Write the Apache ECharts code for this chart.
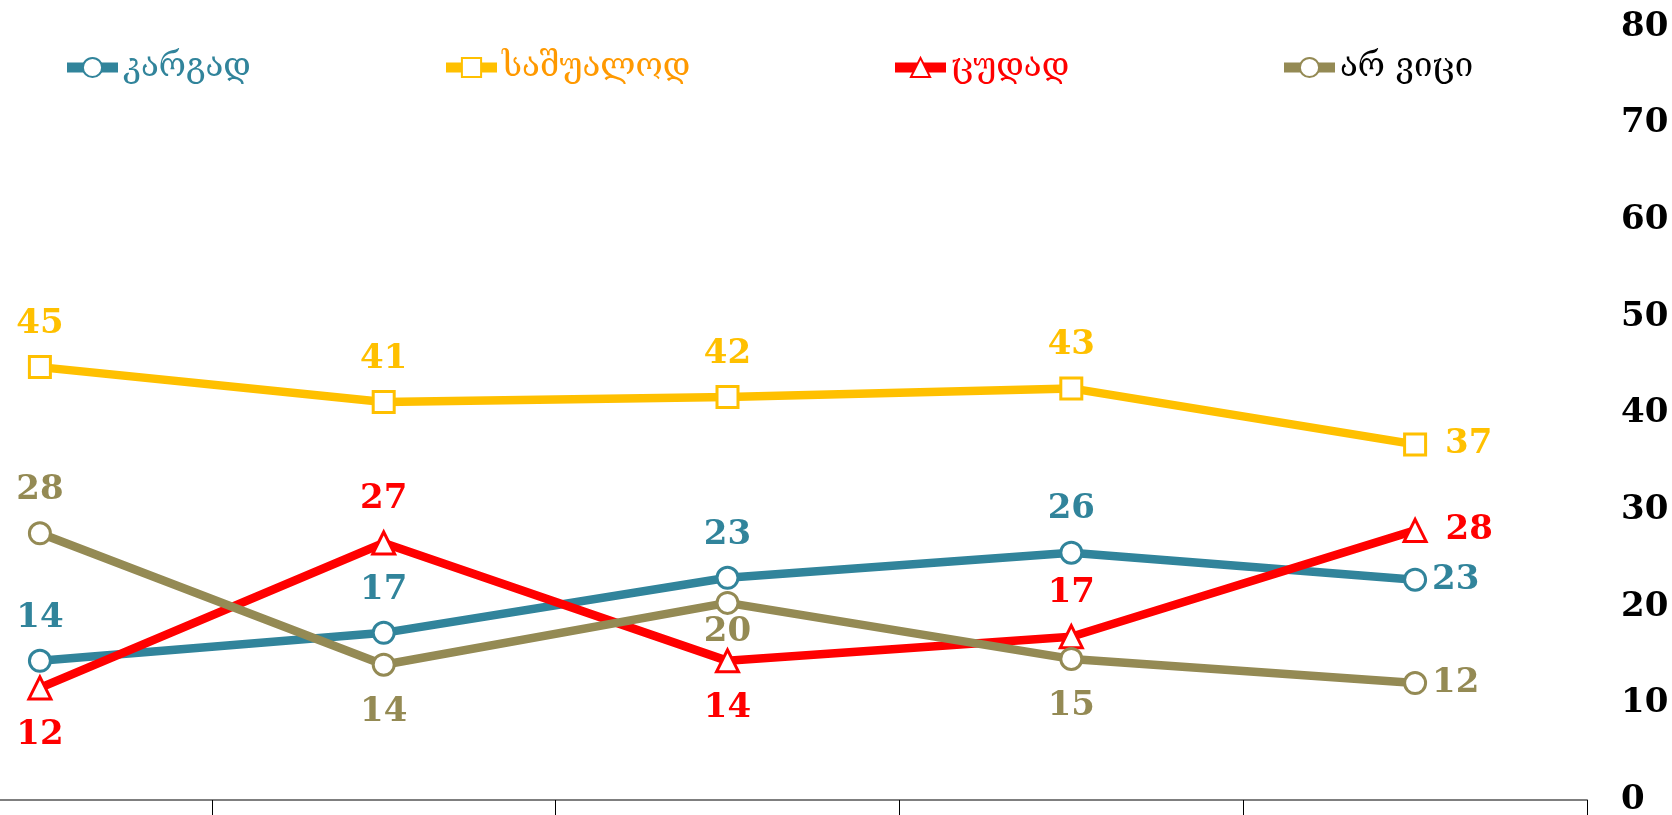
<!DOCTYPE html>
<html>
<head>
<meta charset="utf-8">
<script src="https://cdn.jsdelivr.net/npm/echarts@6/dist/echarts.min.js"></script>
<style>
  html, body { margin: 0; padding: 0; background: #fff; }
  #main { width: 1672px; height: 815px; }
</style>
</head>
<body>
<div id="main"></div>
<script>
// categories (their labels fall below the visible area)
const categories = ['I', 'II', 'III', 'IV', 'V'];
const names = ['კარგად', 'საშუალოდ', 'ცუდად', 'არ ვიცი'];

const kargad    = [14.4, 17.3, 23.0, 25.6, 22.8];
const sashualod = [44.8, 41.2, 41.7, 42.6, 36.8];
const tsudad    = [11.6, 26.6, 14.4, 16.9, 27.9];
const arVitsi   = [27.6, 14.0, 20.4, 14.6, 12.1];

const yMin = 0, yMax = 80, yStep = 10;

const colors = ['#31849B', '#FFC000', '#FF0000', '#948A54'];
const legendText = ['#31849B', '#FF9900', '#FF0000', '#000000'];
const symbols = ['circle', 'rect', 'triangle', 'circle'];

// where each value label sits
const labelPos = [
  ['top', 'top', 'top', 'top', 'right'],
  ['top', 'top', 'top', 'top', 'right'],
  ['bottom', 'top', 'bottom', 'top', 'right'],
  ['top', 'bottom', 'bottom', 'bottom', 'right']
];
const labelDist = [
  [14, 14, 14, 14, 5],
  [14, 14, 14, 14, 18],
  [18, 14, 18, 14, 18],
  [14, 18, 0, 18, 5]
];

const values = [kargad, sashualod, tsudad, arVitsi];
const legendLeft = [62, 441, 890, 1279];

const labelFont = 'DejaVu Serif';

var myChart = echarts.init(document.getElementById('main'));

const series = values.map((vals, i) => ({
  name: names[i],
  type: 'line',
  symbol: symbols[i],
  symbolSize: i === 2 ? 22 : 21,
  lineStyle: { color: colors[i], width: 8.5 },
  itemStyle: { color: '#fff', borderColor: colors[i], borderWidth: 3 },
  z: 2,
  data: vals.map((v, j) => ({
    value: v,
    label: { position: labelPos[i][j], distance: labelDist[i][j] }
  })),
  label: {
    show: true,
    color: colors[i],
    fontFamily: labelFont,
    fontWeight: 'bold',
    fontSize: 34,
    formatter: p => Math.round(p.value)
  }
}));

const legends = names.map((n, i) => ({
  data: [n],
  left: legendLeft[i],
  top: 51,
  padding: 0,
  itemWidth: 51,
  itemHeight: 24,
  itemGap: 5,
  lineStyle: { width: 10 },
  textStyle: {
    color: legendText[i],
    fontFamily: 'DejaVu Serif',
    fontSize: 33
  }
}));

myChart.setOption({
  animation: false,
  color: colors,
  legend: legends,
  grid: {
    left: -132,
    right: 85,
    top: 27,
    bottom: 15,
    containLabel: false,
    outerBoundsMode: 'none'
  },
  xAxis: {
    type: 'category',
    data: categories,
    boundaryGap: true,
    axisLine: { lineStyle: { color: '#7f7f7f', width: 2 } },
    axisTick: { show: true, length: 20, lineStyle: { color: '#000', width: 1 } },
    axisLabel: { show: false }
  },
  yAxis: {
    type: 'value',
    position: 'right',
    min: yMin,
    max: yMax,
    interval: yStep,
    splitLine: { show: false },
    axisLine: { show: false },
    axisTick: { show: false },
    axisLabel: {
      margin: 34,
      padding: [12, 0, 0, 0],
      color: '#000',
      fontFamily: labelFont,
      fontWeight: 'bold',
      fontSize: 34
    }
  },
  series: series
});
</script>
</body>
</html>
